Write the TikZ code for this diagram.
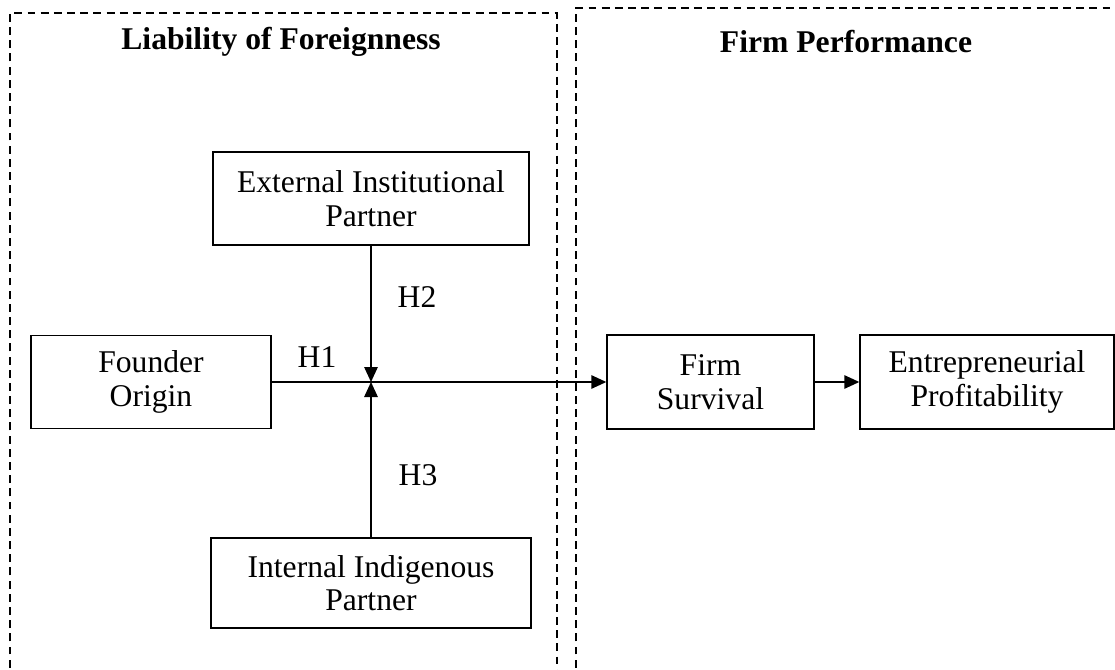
\documentclass[tikz,border=0pt]{standalone}
\usepackage{fontspec}
\setmainfont{Liberation Serif}
\usetikzlibrary{arrows.meta}

\begin{document}
\begin{tikzpicture}[line width=0.8pt, every node/.style={font=\fontsize{18}{19}\selectfont},
    caixa/.style={draw, rectangle, align=center, inner sep=0pt},
    moldura/.style={dash pattern=on 4.5pt off 3pt},
    seta/.style={-{Triangle[length=0.3cm, width=0.27cm]}}]

    \useasboundingbox (0,0) rectangle (22.3,13.38);
    \clip (0,0) rectangle (22.3,13.38);

    % Molduras tracejadas
    \draw[moldura] (0.2,-0.5) rectangle (11.14,13.12);
    \draw[moldura] (11.52,-0.5) rectangle (23,13.22);

    % Titulos
    \node (tit1) at (5.62,12.54) {\textbf{Liability of Foreignness}};
    \node (tit2) at (16.92,12.54) {\textbf{Firm Performance}};

    % Caixas da esquerda
    \node[caixa, minimum width=6.32cm, minimum height=1.86cm] (ext) at (7.42,9.41) {External Institutional\\Partner};
    \node[caixa, minimum width=4.8cm, minimum height=1.86cm] (founder) at (3.02,5.74) {Founder\\Origin};
    \node[caixa, minimum width=6.4cm, minimum height=1.8cm] (int) at (7.42,1.72) {Internal Indigenous\\Partner};

    % Caixas da direita
    \node[caixa, minimum width=4.14cm, minimum height=1.88cm] (survival) at (14.21,5.74) {Firm\\Survival};
    \node[caixa, minimum width=5.08cm, minimum height=1.88cm] (profit) at (19.74,5.74) {Entrepreneurial\\Profitability};

    % Ponto de encontro
    \coordinate (hub) at (7.42,5.74);

    % Hipoteses
    \node (h1) at (6.34,6.24) {H1};
    \node (h2) at (8.34,7.44) {H2};
    \node (h3) at (8.36,3.88) {H3};

    % Conexoes
    \draw[seta] (founder) -- (survival);
    \draw[seta] (ext) -- (hub);
    \draw[seta] (int) -- (hub);
    \draw[seta] (survival) -- (profit);

\end{tikzpicture}
\end{document}
